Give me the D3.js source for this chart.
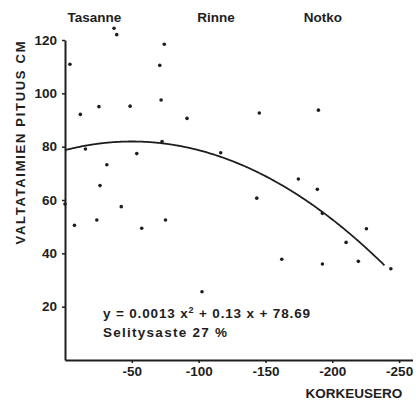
<!DOCTYPE html>
<html>
<head>
<meta charset="utf-8">
<script src="https://cdn.jsdelivr.net/npm/d3@7"></script>
<style>
  html, body { margin: 0; padding: 0; background: #fff; }
  svg { display: block; }
  text { font-family: "Liberation Sans", Arial, sans-serif; font-weight: bold; fill: #1e1e1e; }
</style>
</head>
<body>
<svg id="chart" width="416" height="402"></svg>
<script>
// Data
const korkeusero = [-3.7, -36.7, -38.7, -74.3, -70.9, -11.5, -25.4, -48.7, -71.9, -91.3,
  -15.3, -53.7, -31.3, -26.2, -72.6, -145.4, -189.6, -116.5, -174.6, -188.8,
  -143.5, -7.1, -23.8, -42.1, -57.4, -75.2, -102.5, -192.6, -225.5, -210.3,
  -162.2, -192.6, -219.5, -243.8, 0];
const pituus = [110.9, 124.4, 122.0, 118.4, 110.5, 92.1, 95.0, 95.2, 97.5, 90.6,
  79.1, 77.4, 73.2, 65.4, 81.9, 92.6, 93.7, 77.7, 67.9, 64.0,
  60.7, 50.5, 52.5, 57.5, 49.4, 52.5, 25.6, 55.0, 49.2, 44.1,
  37.8, 36.0, 37.0, 34.2, 58.5];
const xTicks = [-50, -100, -150, -200, -250];
const yTicks = [20, 40, 60, 80, 100, 120];
const groupLabels = ["Tasanne", "Rinne", "Notko"];
const groupPositions = [-22, -113, -193];
// Regression curve coefficients (fitted line shown on the chart)
const coefA = -0.0013, coefB = -0.13, coefC = 78.69;
const curveRange = [0, -239.5];
const equationText = ["y = 0.0013 x", "2", " + 0.13 x + 78.69"];
const fitText = "Selitysaste  27 %";

const svg = d3.select("#chart");
const x = d3.scaleLinear().domain([0, -260]).range([65, 412.5]);
const y = d3.scaleLinear().domain([0, 120]).range([360, 40]);

// Axes
const xAxis = svg.append("g").attr("transform", "translate(0,360)")
  .call(d3.axisBottom(x).tickValues(xTicks).tickSize(3).tickSizeOuter(0).tickPadding(3).tickFormat(d => String(d)));
const yAxis = svg.append("g").attr("transform", "translate(65,0)")
  .call(d3.axisLeft(y).tickValues(yTicks).tickSize(3).tickSizeOuter(0).tickPadding(5).tickFormat(d => String(d)));
[xAxis, yAxis].forEach(g => {
  g.select(".domain").attr("stroke", "#1e1e1e").attr("stroke-width", 2);
  g.selectAll(".tick line").attr("stroke", "#1e1e1e").attr("stroke-width", 1.5);
  g.selectAll(".tick text").style("font-size", "13.5px").style("font-family", "'Liberation Sans', Arial, sans-serif").style("font-weight", "bold").attr("fill", "#1e1e1e");
});

// Regression curve
const curvePts = d3.range(curveRange[0], curveRange[1] - 0.01, -1).map(v => [v, coefA * v * v + coefB * v + coefC]);
svg.append("path").datum(curvePts)
  .attr("fill", "none").attr("stroke", "#1e1e1e").attr("stroke-width", 1.8)
  .attr("d", d3.line().x(d => x(d[0])).y(d => y(d[1])).curve(d3.curveBasis));

// Points
svg.append("g").selectAll("circle").data(korkeusero.map((v, i) => [v, pituus[i]])).join("circle")
  .attr("cx", d => x(d[0])).attr("cy", d => y(d[1])).attr("r", 1.8).attr("fill", "#1e1e1e");

// Group labels
svg.append("g").selectAll("text").data(groupLabels).join("text")
  .attr("x", (d, i) => x(groupPositions[i])).attr("y", 22)
  .attr("text-anchor", "middle").style("font-size", "13.5px").text(d => d);

// Axis titles
svg.append("text").attr("x", 354).attr("y", 398).attr("text-anchor", "middle")
  .style("font-size", "13.5px").text("KORKEUSERO");
svg.append("text").attr("transform", "translate(25,143) rotate(-90)")
  .attr("text-anchor", "middle").style("font-size", "13px")
  .attr("textLength", 203).attr("lengthAdjust", "spacing")
  .text("VALTATAIMIEN PITUUS CM");

// Equation
const eq = svg.append("text").attr("x", 103).attr("y", 318).style("font-size", "13.5px")
  .attr("textLength", 207).attr("lengthAdjust", "spacing");
eq.append("tspan").text(equationText[0]);
eq.append("tspan").attr("dy", -5).style("font-size", "9px").text(equationText[1]);
eq.append("tspan").attr("dy", 5).text(equationText[2]);
svg.append("text").attr("x", 103).attr("y", 337).style("font-size", "13.5px")
  .attr("textLength", 124).attr("lengthAdjust", "spacing").text(fitText);
</script>
</body>
</html>
